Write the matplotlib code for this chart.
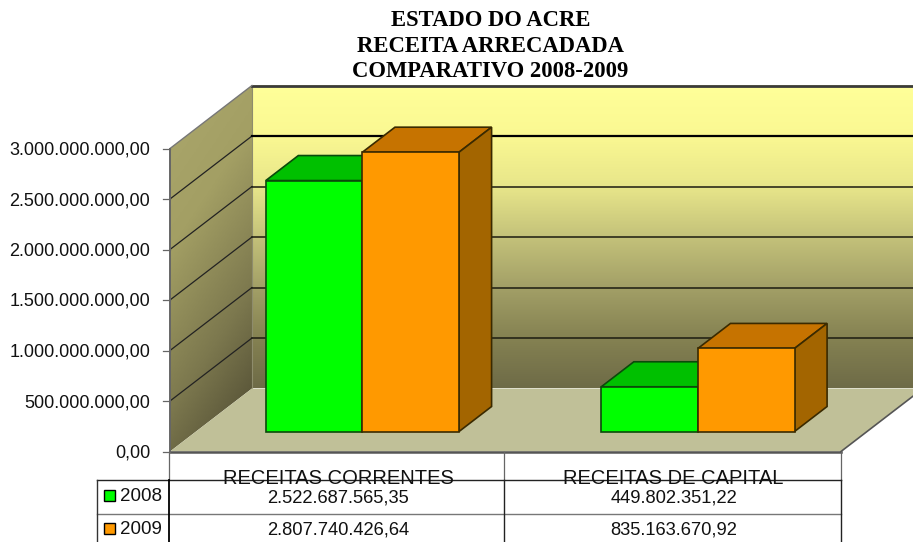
"""Receita arrecadada do Estado do Acre, colunas em pseudo-3D com tabela de dados."""

import matplotlib

matplotlib.use("Agg")
import matplotlib.pyplot as plt
import numpy as np
from matplotlib.colors import LinearSegmentedColormap
from matplotlib.lines import Line2D
from matplotlib.patches import Polygon, Rectangle

categorias = ["RECEITAS CORRENTES", "RECEITAS DE CAPITAL"]
anos = ["2008", "2009"]
valores_2008 = [2522687565.35, 449802351.22]
valores_2009 = [2807740426.64, 835163670.92]
rotulos_2008 = ["2.522.687.565,35", "449.802.351,22"]
rotulos_2009 = ["2.807.740.426,64", "835.163.670,92"]
ticks = [0, 500000000, 1000000000, 1500000000, 2000000000, 2500000000, 3000000000]
tick_labels = [
    "0,00",
    "500.000.000,00",
    "1.000.000.000,00",
    "1.500.000.000,00",
    "2.000.000.000,00",
    "2.500.000.000,00",
    "3.000.000.000,00",
]
titulo = "ESTADO DO ACRE\nRECEITA ARRECADADA\nCOMPARATIVO 2008-2009"

W, H = 913, 542
# plano frontal do grafico em pixels
X0, X1, Y0, Y1 = 170, 841, 451.5, 148.5
# profundidade total em pixels
DX, DY = 82, 63
VMAX = ticks[-1]
# as colunas ficam mais ao fundo, a escala delas e um pouco menor
ESCALA_COLUNA = 0.985

# cores: frente, topo, lateral
cores = [("#00FF00", "#00C000", "#009000"), ("#FF9900", "#C67300", "#A36500")]

plt.rcParams["font.family"] = ["Liberation Sans", "DejaVu Sans"]

fig = plt.figure(figsize=(W / 100, H / 100), dpi=100)
ax = fig.add_axes([X0 / W, 1 - Y0 / H, (X1 - X0) / W, (Y0 - Y1) / H])
ax.set_xlim(0, 2)
ax.set_ylim(0, VMAX)
ax.axis("off")

ux = 2 / (X1 - X0)  # unidades de categoria por pixel
uy = VMAX / (Y0 - Y1)  # valor por pixel


def pt(x, v, d):
    """Ponto (categoria, valor) deslocado na profundidade d (0 a 1)."""
    return (x + d * DX * ux, v + d * DY * uy)


def poly(pontos, **kw):
    p = Polygon(pontos, closed=True, clip_on=False, **kw)
    ax.add_patch(p)
    return p


# ── parede do fundo ──
cmap_fundo = LinearSegmentedColormap.from_list(
    "fundo", ["#FFFF99", "#FAF892", "#E8E68A", "#C4C27A", "#A3A067", "#858252", "#6E6B47"]
)
xa, va = pt(0, 0, 1)
xb, vb = pt(2, VMAX, 1)
ax.imshow(
    np.linspace(0, 1, 256).reshape(-1, 1),
    cmap=cmap_fundo,
    extent=(xa, xb, va, vb),
    origin="upper",
    aspect="auto",
    clip_on=False,
    zorder=1,
)

# ── parede lateral ──
cmap_lado = LinearSegmentedColormap.from_list(
    "lado", ["#ABA76C", "#A39F64", "#7C784E", "#4A462F"]
)
grade_v, grade_h = np.mgrid[0:1:256j, 0:1:64j]
img = ax.imshow(
    np.clip(grade_v * 0.75 + grade_h * 0.25, 0, 1),
    cmap=cmap_lado,
    extent=(0, xa, 0, vb),
    origin="upper",
    aspect="auto",
    zorder=1,
)
lado = Polygon(
    [pt(0, 0, 0), pt(0, 0, 1), pt(0, VMAX, 1), pt(0, VMAX, 0)],
    closed=True,
    transform=ax.transData,
)
img.set_clip_box(fig.bbox)
img.set_clip_path(lado)
ax.set_xlim(0, 2)
ax.set_ylim(0, VMAX)
ax.plot(*zip(pt(0, 0, 1), pt(0, VMAX, 1)), color="#8E8C6C", lw=0.8, clip_on=False, zorder=1.5)

# ── piso ──
poly(
    [pt(0, 0, 0), pt(2, 0, 0), pt(2, 0, 1), pt(0, 0, 1)],
    facecolor="#C0C098",
    edgecolor="none",
    zorder=2,
)
ax.plot([0, 2], [0, 0], color="#555555", lw=1.8, clip_on=False, zorder=3)
ax.plot(*zip(pt(2, 0, 0), pt(2, 0, 1)), color="#555555", lw=1.2, clip_on=False, zorder=3)

# ── linhas de grade ──
for i, t in enumerate(ticks):
    if t > 0:
        if t == VMAX:
            cor, lw = "#3A3A3A", 2.0
        elif t == 2500000000:
            cor, lw = "#000000", 1.6
        else:
            cor, lw = "#1C1C10", 1.1
        if t < VMAX:
            ax.plot(*zip(pt(0, t, 0), pt(0, t, 1)), color="#222222", lw=0.9, clip_on=False, zorder=2)
        ax.plot(*zip(pt(0, t, 1), pt(2, t, 1)), color=cor, lw=lw, clip_on=False, zorder=2)
    ax.plot([-7 * ux, 0], [t, t], color="#666666", lw=0.9, clip_on=False, zorder=3)
    ax.text(-20 * ux, t - 1.5 * uy, tick_labels[i], ha="right", va="center", fontsize=13, color="#111111")
ax.plot([0, 0], [0, VMAX], color="#666666", lw=1.4, clip_on=False, zorder=3)
ax.plot(*zip(pt(0, VMAX, 0), pt(0, VMAX, 1)), color="#777777", lw=1.0, clip_on=False, zorder=2)

# ── colunas ──
LARGURA = 0.288
MARGEM = 0.208
D0, D1 = 0.317, 0.714
for j, serie in enumerate([valores_2008, valores_2009]):
    frente, topo, lateral = cores[j]
    for i, valor in enumerate(serie):
        v = valor * ESCALA_COLUNA
        e = i + MARGEM + j * LARGURA
        d = e + LARGURA
        est = dict(edgecolor="#3A2A00" if j else "#0B4A0B", lw=1.2, joinstyle="miter")
        z = 4 + j + i * 0.1
        poly([pt(e, v, D0), pt(d, v, D0), pt(d, v, D1), pt(e, v, D1)], facecolor=topo, zorder=z, **est)
        poly([pt(d, 0, D0), pt(d, 0, D1), pt(d, v, D1), pt(d, v, D0)], facecolor=lateral, zorder=z, **est)
        poly([pt(e, 0, D0), pt(d, 0, D0), pt(d, v, D0), pt(e, v, D0)], facecolor=frente, zorder=z + 0.1, **est)

# ── titulo ──
fig.text(
    490.5 / W,
    1 - 46 / H,
    titulo,
    ha="center",
    va="center",
    family=["Liberation Serif"],
    fontweight="bold",
    fontsize=16.3,
    linespacing=1.28,
    color="#000000",
)


# ── tabela de dados ──
def fx(x):
    return x / W


def fy(y):
    return 1 - y / H


def linha(x0, y0, x1, y1, cor="#000000", lw=1.0):
    fig.add_artist(Line2D([fx(x0), fx(x1)], [fy(y0), fy(y1)], color=cor, lw=lw))


XT0, XT1, XT2 = X0, 504, X1
YT0, YT1, YT2 = 480, 514, 542

linha(XT0 - 1, Y0, XT0 - 1, YT0, "#666666", 0.9)
linha(XT1, Y0, XT1, YT0, "#666666", 0.9)
linha(XT2, Y0, XT2, YT0, "#666666", 0.9)
linha(97, YT0, XT2, YT0, "#222222", 1.0)
linha(97, YT1, XT2, YT1, "#777777", 1.0)
linha(97, YT0, 97, YT2, "#333333", 1.0)
linha(XT0 - 1, YT0, XT0 - 1, YT2, "#000000", 1.3)
linha(XT1, YT0, XT1, YT2, "#222222", 1.0)
linha(XT2, YT0, XT2, YT2, "#222222", 1.0)

centros = [(XT0 + XT1) / 2 + 1, (XT1 + XT2) / 2 + 1]
for cx, nome, r08, r09 in zip(centros, categorias, rotulos_2008, rotulos_2009):
    fig.text(fx(cx), fy(479), nome, ha="center", va="center", fontsize=14.5, color="#111111")
    fig.text(fx(cx), fy(498), r08, ha="center", va="center", fontsize=13.2, color="#111111")
    fig.text(fx(cx), fy(530), r09, ha="center", va="center", fontsize=13.2, color="#111111")

for ano, (frente, _, _), yc in zip(anos, cores, [495, 528]):
    fig.add_artist(
        Rectangle(
            (fx(104), fy(yc + 5.5)),
            11 / W,
            11 / H,
            transform=fig.transFigure,
            facecolor=frente,
            edgecolor="#000000",
            lw=1.0,
        )
    )
    fig.text(fx(120), fy(yc + 1.5), ano, ha="left", va="center", fontsize=13.5, color="#111111")

fig.savefig("out.png", dpi=100)
